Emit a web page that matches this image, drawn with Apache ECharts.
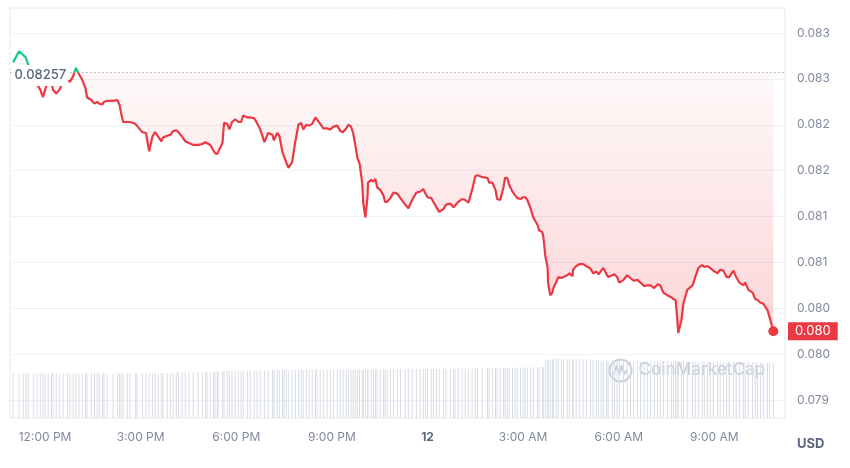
<!DOCTYPE html>
<html><head><meta charset="utf-8">
<script src="https://cdn.jsdelivr.net/npm/echarts@6/dist/echarts.min.js"></script>
<style>html,body{margin:0;padding:0;background:#fff}#c{width:850px;height:468px}</style>
</head><body><div id="c"></div>
<script>
// minutes since 11:00 AM (day 11)
const times = [
0,11,19,24,28,38,45,51,56,60,
66,72,75,81,87,94,102,107,113,118,
124,130,136,139,147,153,158,162,168,171,
177,188,196,200,203,207,215,220,230,233,
243,250,256,262,267,273,279,282,290,296,
301,307,311,318,324,331,339,348,356,362,
365,371,377,380,384,386,394,397,403,407,
412,418,424,429,433,441,446,454,459,465,
473,480,488,491,497,501,507,510,514,518,
525,531,537,542,546,552,557,563,569,572,
578,584,591,597,603,610,616,621,627,631,
636,640,644,648,652,657,659,663,667,668,
674,678,682,685,691,697,700,704,710,716,
723,729,738,744,751,759,766,772,776,780,
787,791,797,802,810,815,823,829,832,838,
845,851,857,864,870,874,883,893,896,902,
908,911,917,923,926,930,934,940,945,949,
955,960,964,968,974,979,987,990,996,998,
1002,1006,1007,1011,1015,1017,1022,1026,1032,1036,
1043,1047,1053,1054,1060,1066,1073,1079,1087,1092,
1098,1102,1107,1111,1117,1120,1128,1132,1137,1141,
1149,1156,1162,1168,1175,1181,1188,1194,1200,1207,
1213,1218,1224,1232,1239,1243,1247,1250,1252,1258,
1262,1269,1279,1284,1290,1297,1301,1307,1312,1318,
1326,1331,1337,1343,1348,1356,1361,1367,1375,1378,
1384,1392,1397,1401,1407,1412,1420,1424,1431
];
const prices = [
0.08268,0.08280,0.08276,0.08273,0.08266,0.08251,0.08244,0.08238,0.08230,0.08238,
0.08248,0.08246,0.08238,0.08234,0.08238,0.08247,0.08248,0.08247,0.08253,0.08262,
0.08255,0.08249,0.08240,0.08230,0.08227,0.08223,0.08225,0.08223,0.08222,0.08225,
0.08226,0.08226,0.08227,0.08222,0.08213,0.08203,0.08203,0.08203,0.08201,0.08201,
0.08192,0.08191,0.08171,0.08187,0.08192,0.08187,0.08182,0.08186,0.08188,0.08189,
0.08193,0.08194,0.08192,0.08187,0.08182,0.08180,0.08178,0.08178,0.08179,0.08181,
0.08181,0.08178,0.08172,0.08169,0.08168,0.08170,0.08180,0.08202,0.08201,0.08195,
0.08203,0.08206,0.08203,0.08203,0.08210,0.08208,0.08208,0.08207,0.08202,0.08195,
0.08181,0.08191,0.08189,0.08183,0.08191,0.08188,0.08170,0.08169,0.08159,0.08153,
0.08159,0.08181,0.08200,0.08202,0.08195,0.08200,0.08199,0.08201,0.08208,0.08207,
0.08201,0.08196,0.08196,0.08195,0.08198,0.08199,0.08193,0.08192,0.08196,0.08200,
0.08198,0.08191,0.08178,0.08164,0.08158,0.08137,0.08115,0.08099,0.08121,0.08137,
0.08140,0.08138,0.08141,0.08132,0.08129,0.08123,0.08116,0.08116,0.08120,0.08126,
0.08125,0.08120,0.08113,0.08109,0.08118,0.08126,0.08127,0.08130,0.08125,0.08121,
0.08120,0.08116,0.08110,0.08105,0.08108,0.08113,0.08114,0.08110,0.08108,0.08116,
0.08119,0.08118,0.08115,0.08129,0.08144,0.08145,0.08143,0.08142,0.08137,0.08137,
0.08129,0.08119,0.08118,0.08132,0.08142,0.08142,0.08134,0.08127,0.08123,0.08120,
0.08119,0.08121,0.08121,0.08118,0.08109,0.08099,0.08091,0.08085,0.08083,0.08078,
0.08056,0.08045,0.08028,0.08014,0.08017,0.08022,0.08028,0.08034,0.08033,0.08034,
0.08036,0.08038,0.08035,0.08042,0.08046,0.08048,0.08048,0.08046,0.08043,0.08038,
0.08040,0.08037,0.08041,0.08044,0.08037,0.08034,0.08036,0.08037,0.08034,0.08028,
0.08031,0.08036,0.08033,0.08030,0.08031,0.08028,0.08024,0.08025,0.08025,0.08022,
0.08026,0.08025,0.08017,0.08014,0.08012,0.08010,0.08009,0.07990,0.07973,0.07987,
0.08006,0.08020,0.08025,0.08034,0.08044,0.08047,0.08045,0.08046,0.08044,0.08041,
0.08038,0.08042,0.08041,0.08034,0.08034,0.08041,0.08034,0.08028,0.08025,0.08028,
0.08020,0.08017,0.08010,0.08009,0.08006,0.08005,0.07998,0.07990,0.07975
];
// volume (millions USD), same timestamps
const volumes = [
3.02,3.04,3.03,3.05,3.04,3.02,3.03,3.05,3.04,3.03,
3.04,3.03,3.05,3.04,3.03,3.04,3.05,3.03,3.04,3.05,
3.04,3.03,3.05,3.06,3.04,3.05,3.04,3.06,3.05,3.04,
3.05,3.06,3.05,3.04,3.06,3.05,3.06,3.05,3.07,3.06,
3.06,3.07,3.05,3.06,3.07,3.06,3.08,3.07,3.06,3.08,
3.08,3.09,3.10,3.12,3.11,3.12,3.13,3.12,3.13,3.14,
3.15,3.14,3.16,3.15,3.17,3.16,3.18,3.20,3.22,3.21,
3.22,3.23,3.24,3.23,3.25,3.24,3.25,3.26,3.25,3.26,
3.26,3.25,3.27,3.26,3.27,3.28,3.27,3.28,3.27,3.28,
3.28,3.29,3.28,3.29,3.28,3.29,3.30,3.29,3.30,3.29,
3.30,3.29,3.30,3.31,3.30,3.31,3.30,3.31,3.30,3.31,
3.31,3.30,3.31,3.32,3.31,3.32,3.31,3.32,3.31,3.32,
3.32,3.31,3.32,3.33,3.32,3.33,3.32,3.33,3.33,3.34,
3.33,3.34,3.33,3.34,3.35,3.34,3.35,3.34,3.35,3.36,
3.35,3.36,3.35,3.36,3.37,3.36,3.37,3.36,3.37,3.38,
3.38,3.37,3.38,3.39,3.38,3.39,3.40,3.39,3.40,3.41,
3.40,3.41,3.42,3.41,3.42,3.43,3.42,3.43,3.44,3.43,
3.44,3.45,3.44,3.45,3.46,3.45,3.46,3.47,3.48,3.50,
3.90,3.95,3.98,4.00,4.01,4.02,4.02,4.03,4.02,4.03,
4.02,4.03,4.02,4.01,4.02,4.01,4.00,4.01,3.99,3.98,
3.96,3.95,3.94,3.93,3.93,3.92,3.92,3.91,3.91,3.90,
3.90,3.89,3.90,3.89,3.89,3.88,3.89,3.88,3.88,3.87,
3.88,3.87,3.87,3.86,3.87,3.86,3.86,3.85,3.86,3.85,
3.85,3.84,3.85,3.84,3.84,3.83,3.84,3.83,3.83,3.82,
3.83,3.82,3.82,3.81,3.82,3.81,3.81,3.80,3.81,3.80,
3.80,3.79,3.80,3.79,3.79,3.78,3.79,3.78,3.78
];
const openPrice = 0.08257;
const xTickValues = [60,240,420,600,780,960,1140,1320];
const xTickLabels = ['12:00 PM','3:00 PM','6:00 PM','9:00 PM','12','3:00 AM','6:00 AM','9:00 AM'];
const yTickLabels = ['0.079','0.080','0.080','0.081','0.081','0.082','0.082','0.083','0.083'];
const currency = 'USD';

const RED = '#ea3943', GREEN = '#16c784', GREY = '#808a9d';
const n = Math.min(times.length, prices.length);
const lineData = [], volData = [];
for (let i = 0; i < n; i++) { lineData.push([times[i], prices[i]]); volData.push([times[i], volumes[i]]); }
const lastT = times[n - 1], lastP = prices[n - 1];
const X_MIN = -6, X_MAX = 1453;

const chart = echarts.init(document.getElementById('c'), null, {renderer: 'canvas'});
chart.setOption({
  animation: false,
  backgroundColor: '#fff',
  textStyle: {fontFamily: 'Inter, "Noto Sans", sans-serif'},
  grid: [
    {left: 10, right: 65, top: 33, bottom: 68},
    {left: 10, right: 65, top: 8, bottom: 50, show: true, borderColor: '#e7eaef', borderWidth: 1, backgroundColor: 'transparent'}
  ],
  xAxis: [
    {gridIndex: 0, type: 'value', min: X_MIN, max: X_MAX, show: false},
    {gridIndex: 1, type: 'value', min: X_MIN, max: X_MAX,
     axisLine: {show: false}, axisTick: {show: false}, splitLine: {show: false},
     axisLabel: {
       customValues: xTickValues, margin: 13, color: GREY, fontSize: 12,
       formatter: function (v) {
         const i = xTickValues.indexOf(v);
         const s = i >= 0 ? xTickLabels[i] : '';
         return s === '12' ? '{b|' + s + '}' : s;
       },
       rich: {b: {fontWeight: 'bold', color: '#58667e', fontSize: 12}}
     }}
  ],
  yAxis: [
    {gridIndex: 0, type: 'value', position: 'right', min: 0.079, max: 0.083, interval: 0.0005,
     axisLine: {show: false}, axisTick: {show: false},
     splitLine: {lineStyle: {color: '#eff2f5', width: 1}},
     axisLabel: {margin: 12, color: GREY, fontSize: 12,
       formatter: function (v) { return yTickLabels[Math.round((v - 0.079) / 0.0005)] || ''; }}},
    {gridIndex: 1, type: 'value', min: 0, max: 28, show: false}
  ],
  visualMap: {
    type: 'piecewise', show: false, seriesIndex: 0, dimension: 1,
    pieces: [
      {gte: 0.075, lte: openPrice, color: RED},
      {gt: openPrice, lte: 0.09, color: GREEN}
    ],
    outOfRange: {color: RED}
  },
  series: [
    {
      type: 'line', xAxisIndex: 0, yAxisIndex: 0, data: lineData,
      showSymbol: false, symbol: 'none', z: 3,
      lineStyle: {width: 2.2},
      areaStyle: {
        origin: openPrice,
        color: new echarts.graphic.LinearGradient(0, 0, 0, 1, [
          {offset: 0, color: 'rgba(234,57,67,0.02)'},
          {offset: 1, color: 'rgba(234,57,67,0.30)'}
        ])
      },
      markLine: {
        symbol: 'none', silent: true, animation: false, precision: 6,
        data: [
          {yAxis: openPrice, lineStyle: {type: [1.5, 2.5], color: '#a1a9b7', width: 1}, label: {show: false}},
          {yAxis: lastP, lineStyle: {color: 'rgba(0,0,0,0)', width: 0},
           label: {show: true, position: 'end', distance: 3, formatter: lastP.toFixed(3),
                   backgroundColor: RED, color: '#fff', fontSize: 13, padding: [3, 7, 2, 7]}}
        ]
      },
      markPoint: {
        silent: true, animation: false, z: 10,
        data: [
          {coord: [X_MIN, openPrice], symbol: 'circle', symbolSize: 1, itemStyle: {color: 'rgba(0,0,0,0)'},
           label: {show: true, position: 'right', distance: 2, offset: [0, 3], formatter: String(openPrice),
                   backgroundColor: '#fff', color: '#58667e', fontSize: 13, fontWeight: 500, padding: [4, 2, 4, 2]}},
          {coord: [lastT, lastP], symbol: 'circle', symbolSize: 10, itemStyle: {color: RED}, label: {show: false}}
        ]
      }
    },
    {
      type: 'bar', xAxisIndex: 1, yAxisIndex: 1, data: volData, barWidth: 1, silent: true, z: 1,
      itemStyle: {color: '#d8dde5'}
    }
  ],
  graphic: [
    {type: 'text', left: 797, top: 438, style: {text: currency, fill: '#58667e', fontSize: 13, fontWeight: 'bold', fontFamily: 'Inter, sans-serif'}},
    {type: 'group', left: 607, top: 357, silent: true, z: 10, children: [
      {type: 'circle', shape: {cx: 12, cy: 12, r: 11}, style: {fill: 'none', stroke: '#c9d0da', lineWidth: 2}},
      {type: 'polyline', shape: {points: [[5, 16], [8, 8], [11, 15], [13, 8], [16, 15], [19, 11]]}, style: {fill: 'none', stroke: '#c9d0da', lineWidth: 2}},
      {type: 'text', x: 30, y: 3, style: {text: 'CoinMarketCap', fill: '#c9d0da', fontSize: 17, fontWeight: 500, fontFamily: 'Inter, sans-serif'}}
    ]}
  ]
});
</script></body></html>
